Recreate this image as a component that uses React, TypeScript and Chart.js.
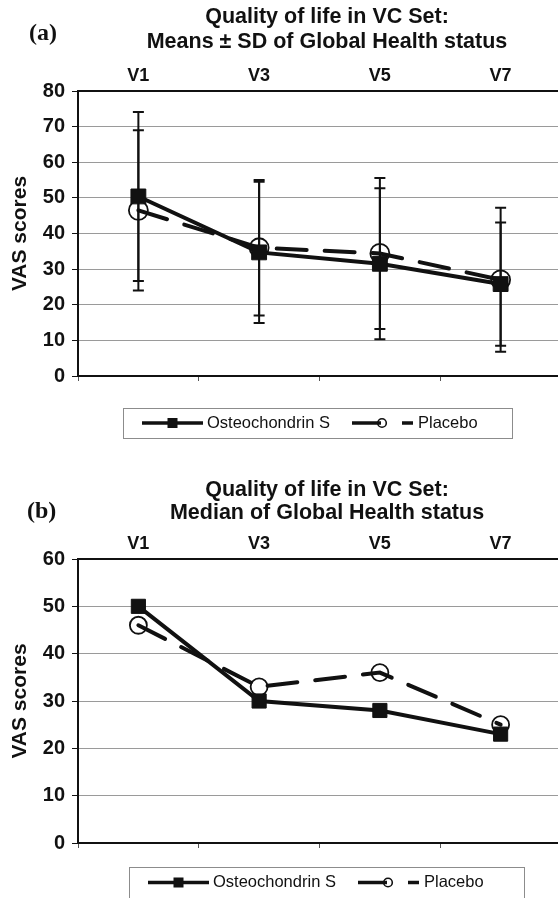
import React, { useEffect, useRef } from 'react';
import { Chart, registerables } from 'chart.js';

Chart.register(...registerables);

// ---------- data ----------
const VISITS = ['V1', 'V3', 'V5', 'V7'];
const SERIES = ['Osteochondrin S', 'Placebo'];

// panel (a): means ± SD
const MEAN_OSTEO = [50.4, 34.7, 31.5, 25.8];
const SD_OSTEO = [23.7, 19.8, 21.2, 17.3];
const MEAN_PLACEBO = [46.5, 36.0, 34.4, 27.0];
const SD_PLACEBO = [22.5, 19.0, 21.2, 20.2];

// panel (b): medians
const MEDIAN_OSTEO = [50, 30, 28, 23];
const MEDIAN_PLACEBO = [46, 33, 36, 25];

const TITLE_A = ['Quality of life in VC Set:', 'Means ± SD of Global Health status'];
const TITLE_B = ['Quality of life in VC Set:', 'Median of Global Health status'];
const Y_MAX_A = 80;
const Y_MAX_B = 60;
const Y_STEP = 10;
const Y_TITLE = 'VAS scores';

// ---------- style ----------
const SANS = '"Liberation Sans", Arial, Helvetica, sans-serif';
const SERIF = '"Liberation Serif", "Times New Roman", serif';
const INK = '#111111';
const GRID = '#9a9a9a';
const CANVAS_W = 561;

type LegendCfg = { left: number; top: number; right: number; bottom: number; textY: number };
type PanelCfg = {
  tag: string;
  title: string[];
  yMax: number;
  osteo: number[];
  placebo: number[];
  osteoSd?: number[];
  placeboSd?: number[];
  canvasTop: number;
  canvasHeight: number;
  areaTop: number;
  areaBottom: number;
  titleX: number;
  titleY: number[];
  tagX: number;
  tagY: number;
  legend: LegendCfg;
  squareR: number;
  circleR: number;
};

const errorBarsPlugin = {
  id: 'errorBars',
  beforeDatasetsDraw(chart: any) {
    const y = chart.scales.y;
    const ctx = chart.ctx;
    ctx.save();
    ctx.strokeStyle = INK;
    ctx.lineWidth = 2;
    chart.data.datasets.forEach((ds: any, i: number) => {
      if (!ds.sd) return;
      const meta = chart.getDatasetMeta(i);
      meta.data.forEach((pt: any, j: number) => {
        const v = ds.data[j];
        const s = ds.sd[j];
        const top = y.getPixelForValue(v + s);
        const bot = y.getPixelForValue(v - s);
        ctx.beginPath();
        ctx.moveTo(pt.x, top);
        ctx.lineTo(pt.x, bot);
        ctx.moveTo(pt.x - 5.5, top);
        ctx.lineTo(pt.x + 5.5, top);
        ctx.moveTo(pt.x - 5.5, bot);
        ctx.lineTo(pt.x + 5.5, bot);
        ctx.stroke();
      });
    });
    ctx.restore();
  },
};

const decorPlugin = {
  id: 'decor',
  afterDraw(chart: any, _args: any, o: any) {
    const ctx = chart.ctx;
    ctx.save();
    ctx.fillStyle = INK;
    ctx.textBaseline = 'middle';

    // title
    ctx.font = `bold 21.5px ${SANS}`;
    ctx.textAlign = 'center';
    o.title.forEach((line: string, i: number) => ctx.fillText(line, o.titleX, o.titleY[i]));

    // panel tag
    ctx.font = `bold 24px ${SERIF}`;
    ctx.textAlign = 'left';
    ctx.fillText(o.tag, o.tagX, o.tagY);

    // legend
    const L = o.legend;
    ctx.strokeStyle = '#8c8c8c';
    ctx.lineWidth = 1;
    ctx.strokeRect(L.left + 0.5, L.top + 0.5, L.right - L.left, L.bottom - L.top);

    const ty = L.textY;
    ctx.strokeStyle = INK;
    ctx.lineWidth = 3.5;
    ctx.lineCap = 'butt';
    // Osteochondrin S sample
    const s1 = L.left + 19;
    ctx.beginPath();
    ctx.moveTo(s1, ty);
    ctx.lineTo(s1 + 61, ty);
    ctx.stroke();
    ctx.fillRect(s1 + 30.5 - 5, ty - 5, 10, 10);
    // Placebo sample
    const s2 = L.left + 229;
    ctx.setLineDash([29, 21]);
    ctx.beginPath();
    ctx.moveTo(s2, ty);
    ctx.lineTo(s2 + 61, ty);
    ctx.stroke();
    ctx.setLineDash([]);
    ctx.lineWidth = 1.6;
    ctx.beginPath();
    ctx.arc(s2 + 30, ty, 4.3, 0, Math.PI * 2);
    ctx.stroke();

    ctx.font = `16.5px ${SANS}`;
    ctx.textAlign = 'left';
    ctx.fillText(o.series[0], L.left + 84, ty);
    ctx.fillText(o.series[1], L.left + 295, ty);
    ctx.restore();
  },
};

function Panel({ cfg }: { cfg: PanelCfg }) {
  const ref = useRef<HTMLCanvasElement>(null);

  useEffect(() => {
    const yMax = cfg.yMax;
    const chart = new Chart(ref.current as HTMLCanvasElement, {
      type: 'line',
      data: {
        labels: VISITS,
        datasets: [
          {
            label: SERIES[0],
            data: cfg.osteo,
            sd: cfg.osteoSd,
            borderColor: INK,
            backgroundColor: INK,
            borderWidth: 4,
            tension: 0,
            pointStyle: 'rect',
            pointRadius: cfg.squareR,
            pointBackgroundColor: INK,
            pointBorderColor: INK,
            pointBorderWidth: 1,
          } as any,
          {
            label: SERIES[1],
            data: cfg.placebo,
            sd: cfg.placeboSd,
            borderColor: INK,
            backgroundColor: 'rgba(0,0,0,0)',
            borderWidth: 4,
            borderDash: [30, 18],
            borderCapStyle: 'round',
            tension: 0,
            pointStyle: 'circle',
            pointRadius: cfg.circleR,
            pointBackgroundColor: 'rgba(0,0,0,0)',
            pointBorderColor: INK,
            pointBorderWidth: 1.8,
          } as any,
        ],
      },
      options: {
        animation: false,
        responsive: false,
        events: [],
        layout: { padding: 0, autoPadding: false },
        plugins: {
          legend: { display: false },
          title: { display: false },
          tooltip: { enabled: false },
          decor: {
            title: cfg.title,
            titleX: cfg.titleX,
            titleY: cfg.titleY,
            tag: cfg.tag,
            tagX: cfg.tagX,
            tagY: cfg.tagY,
            legend: cfg.legend,
            series: SERIES,
          },
        } as any,
        scales: {
          x: {
            type: 'category',
            position: 'top',
            offset: true,
            grid: { display: false, drawTicks: false },
            border: { display: true, color: INK, width: 2 },
            ticks: {
              color: INK,
              font: { family: SANS, size: 18, weight: 'bold' },
              padding: 4,
              maxRotation: 0,
            },
            afterFit: (s: any) => {
              s.height = cfg.areaTop;
            },
          },
          x2: {
            type: 'category',
            position: 'bottom',
            offset: true,
            grid: {
              offset: true,
              drawOnChartArea: false,
              drawTicks: true,
              tickLength: 5,
              color: '#555555',
              lineWidth: 1,
            },
            border: { display: true, color: INK, width: 2 },
            ticks: { display: false },
            afterFit: (s: any) => {
              s.height = cfg.canvasHeight - cfg.areaBottom;
            },
          },
          y: {
            min: 0,
            max: yMax,
            ticks: {
              stepSize: Y_STEP,
              color: INK,
              font: { family: SANS, size: 20, weight: 'bold' },
              padding: 7,
            },
            grid: {
              color: (c: any) =>
                c.tick && (c.tick.value === 0 || c.tick.value === yMax) ? 'rgba(0,0,0,0)' : GRID,
              tickColor: INK,
              tickLength: 6,
              lineWidth: 1,
            },
            border: { display: true, color: INK, width: 2 },
            title: {
              display: true,
              text: Y_TITLE,
              color: INK,
              font: { family: SANS, size: 21, weight: 'bold' },
              padding: { top: 8, bottom: 0 },
            },
            afterFit: (s: any) => {
              s.width = 78;
            },
          },
        } as any,
      },
      plugins: [errorBarsPlugin, decorPlugin],
    });
    return () => chart.destroy();
  }, [cfg]);

  return (
    <canvas
      ref={ref}
      width={CANVAS_W}
      height={cfg.canvasHeight}
      style={{ position: 'absolute', left: 0, top: cfg.canvasTop, display: 'block' }}
    />
  );
}

const PANEL_A: PanelCfg = {
  tag: '(a)',
  title: TITLE_A,
  yMax: Y_MAX_A,
  osteo: MEAN_OSTEO,
  placebo: MEAN_PLACEBO,
  osteoSd: SD_OSTEO,
  placeboSd: SD_PLACEBO,
  canvasTop: 0,
  canvasHeight: 455,
  areaTop: 91,
  areaBottom: 376,
  titleX: 327,
  titleY: [17, 42],
  tagX: 29,
  tagY: 34,
  legend: { left: 123, top: 408, right: 512, bottom: 438, textY: 423 },
  squareR: 10.5,
  circleR: 9.5,
};

const PANEL_B: PanelCfg = {
  tag: '(b)',
  title: TITLE_B,
  yMax: Y_MAX_B,
  osteo: MEDIAN_OSTEO,
  placebo: MEDIAN_PLACEBO,
  canvasTop: 455,
  canvasHeight: 443,
  areaTop: 104,
  areaBottom: 388,
  titleX: 327,
  titleY: [35, 58],
  tagX: 27,
  tagY: 57,
  legend: { left: 129, top: 412, right: 524, bottom: 446, textY: 427.5 },
  squareR: 10,
  circleR: 8.5,
};

export default function App() {
  return (
    <div
      style={{
        position: 'absolute',
        left: 0,
        top: 0,
        width: 558,
        height: 898,
        overflow: 'hidden',
        background: '#ffffff',
      }}
    >
      <Panel cfg={PANEL_A} />
      <Panel cfg={PANEL_B} />
    </div>
  );
}
